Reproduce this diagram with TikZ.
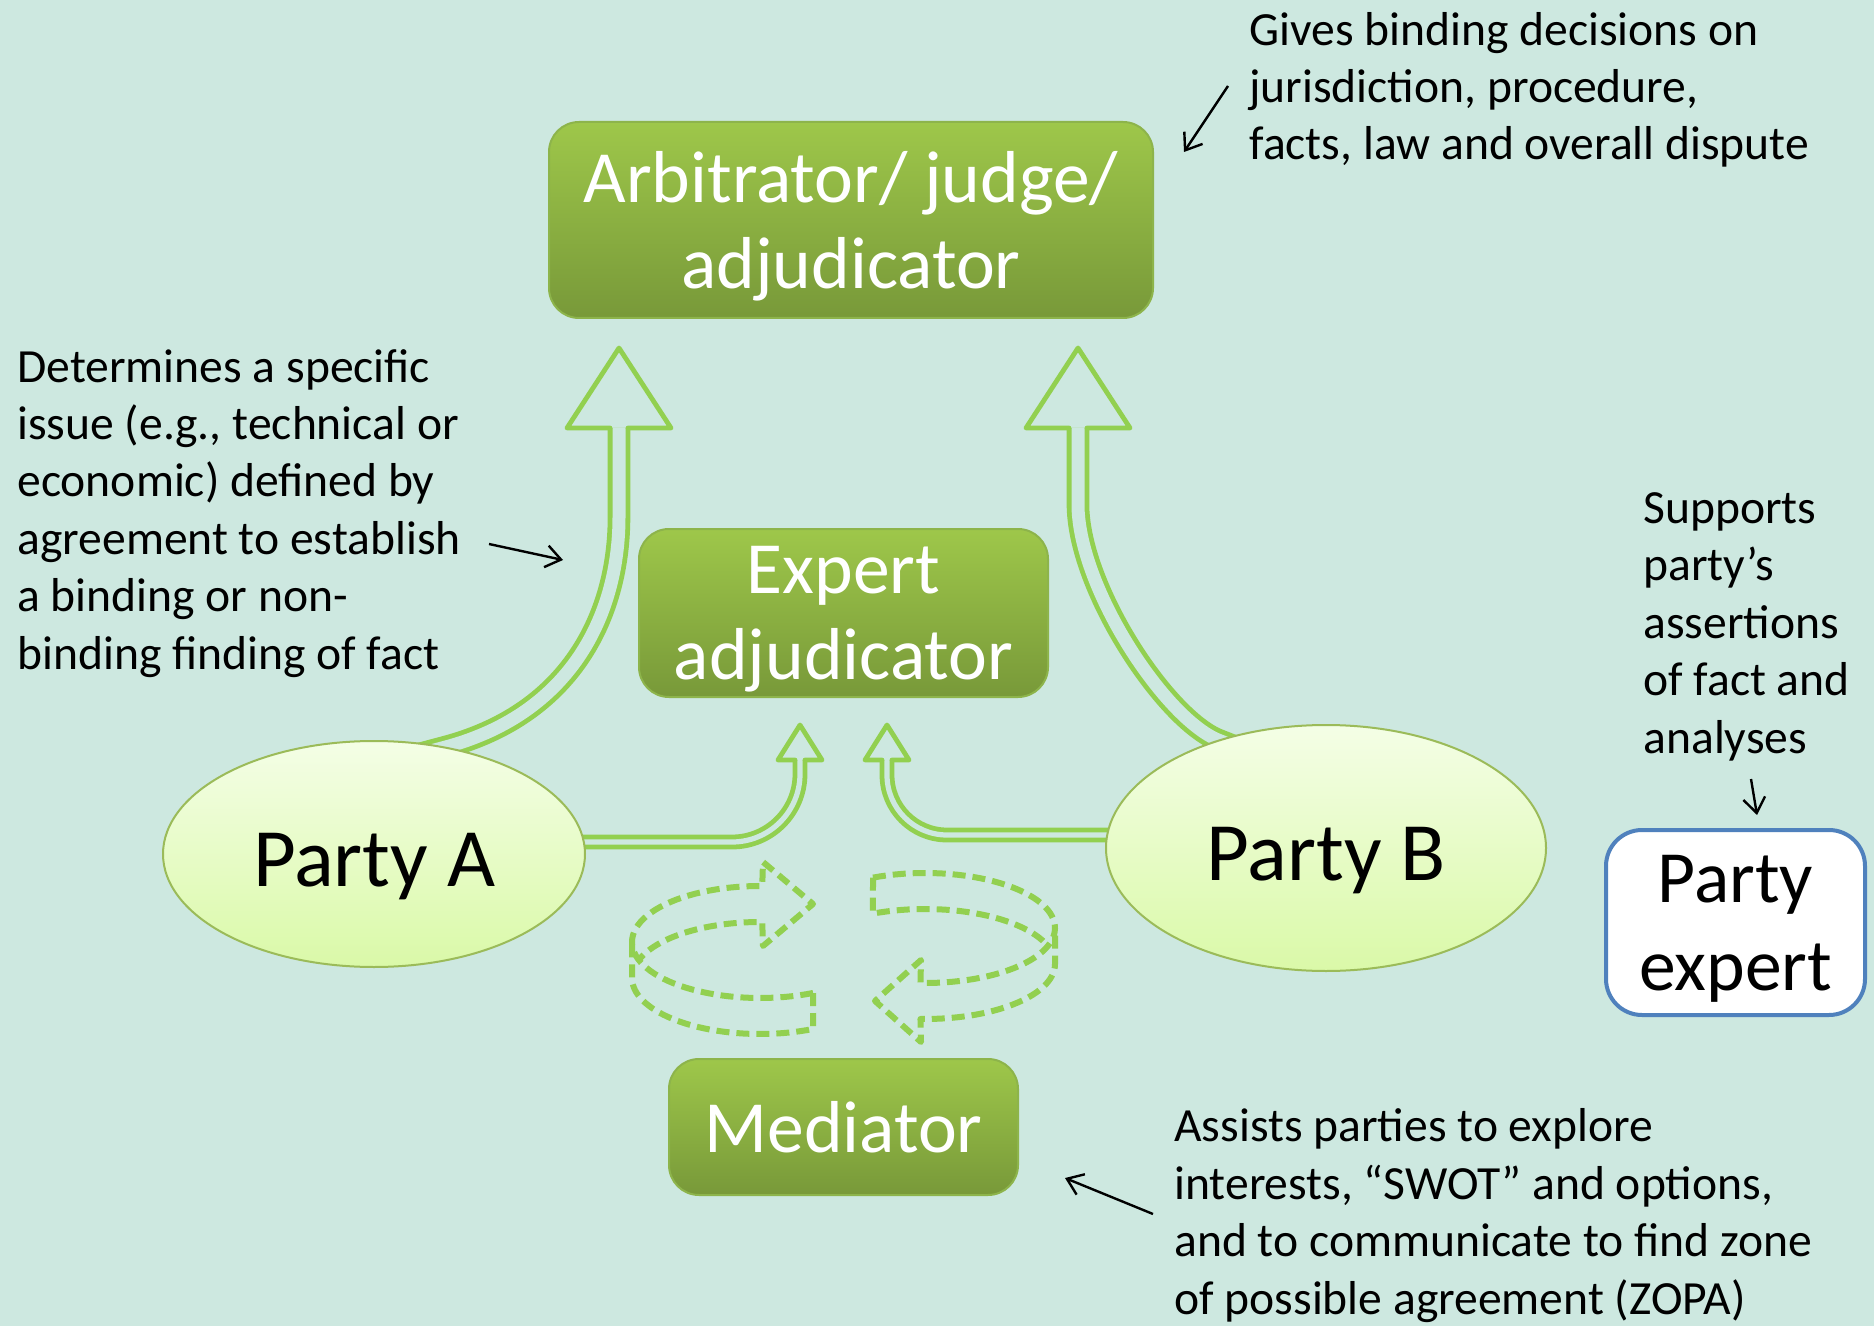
\documentclass[tikz,border=0pt]{standalone}
\usepackage{fontspec}
\setmainfont{Carlito}
\usetikzlibrary{shapes.geometric,arrows.meta}
\definecolor{mint}{RGB}{205,232,224}
\definecolor{leaf}{RGB}{146,208,80}
\definecolor{boxtop}{RGB}{158,199,74}
\definecolor{boxbot}{RGB}{120,153,57}
\definecolor{boxrim}{RGB}{141,180,75}
\definecolor{eggtop}{RGB}{244,254,230}
\definecolor{eggbot}{RGB}{218,249,168}
\definecolor{eggrim}{RGB}{155,187,89}
\definecolor{steel}{RGB}{79,129,189}
\pgfdeclarelayer{back}
\pgfsetlayers{back,main}

\begin{document}
\begin{tikzpicture}[x=0.5pt,y=-0.5pt,
		greenbox/.style={rectangle, rounded corners=15pt, draw=boxrim, line width=1pt, top color=boxtop, bottom color=boxbot, text=white, align=center, inner sep=0pt, text depth=0pt, font=\fontsize{36.8pt}{43pt}\selectfont},
		party/.style={ellipse, draw=eggrim, line width=1pt, top color=eggtop, bottom color=eggbot, inner sep=0pt, text height=32pt, text depth=0pt, font=\fontsize{41.5pt}{50pt}\selectfont},
		expertbox/.style={rectangle, rounded corners=18pt, draw=steel, line width=2pt, fill=white, align=center, inner sep=0pt, text depth=0pt, font=\fontsize{36.8pt}{44pt}\selectfont},
		note/.style={anchor=base west, align=left, inner sep=0pt, font=\fontsize{23.8pt}{28.7pt}\selectfont},
		pointer/.style={-{Straight Barb[length=7.5pt,width=11pt]}, line width=1.2pt},
		bigshaft/.style={draw=leaf, line width=2.4pt, double=mint, double distance=6.5pt},
		smallshaft/.style={draw=leaf, line width=2.4pt, double=mint, double distance=2.6pt},
		arrowtip/.style={draw=leaf, line width=2.4pt, line join=round, line cap=round},
		spin/.style={draw=leaf, line width=3pt, dash pattern=on 6.5pt off 3.5pt, line join=round}]
		\useasboundingbox (0,0) rectangle (1874,1326);

		\node[greenbox, minimum width=302pt, minimum height=98pt] (arb) at (851,220) {Arbitrator/ judge/\\adjudicator};
		\node[greenbox, minimum width=204.5pt, minimum height=84pt] (expadj) at (843.5,613) {Expert\\adjudicator};
		\node[greenbox, minimum width=174.5pt, minimum height=68pt] (med) at (843.5,1127) {Mediator};
		\node[party, minimum width=211pt, minimum height=113pt] (pa) at (374,854) {Party A};
		\node[party, minimum width=220pt, minimum height=123pt] (pb) at (1326,848) {Party B};
		\node[expertbox, minimum width=129.5pt, minimum height=92.5pt] (pexp) at (1735.5,922.5) {Party\\expert};

		\node[note] (gives) at (1249,160) {Gives binding decisions on\\jurisdiction, procedure,\\facts, law and overall dispute};
		\node[note] (determines) at (17,669) {Determines a specific\\issue (e.g., technical or\\economic) defined by\\agreement to establish\\a binding or non-\\binding finding of fact};
		\node[note] (supports) at (1643,753) {Supports\\party’s\\assertions\\of fact and\\analyses};
		\node[note] (assists) at (1174,1314) {Assists parties to explore\\interests, “SWOT” and options,\\and to communicate to find zone\\of possible agreement (ZOPA)};

		\coordinate (tipl) at (619,348);
		\coordinate (tipr) at (1078,348);
		\coordinate (tipa) at (800,725);
		\coordinate (tipb) at (887,725);

		\begin{pgfonlayer}{back}
			\fill[mint] (0,0) rectangle (1874,1326);
			\draw[bigshaft] ([shift={(-30,8)}]pa.56) -- (pa.56) .. controls (575,712) and (619,610) .. (619,517) -- ([yshift=-40pt]tipl);
			\draw[bigshaft] ([shift={(28,11)}]pb.135) -- (pb.135) .. controls (1165,718) and (1080,590) .. (1078,507) -- ([yshift=-40pt]tipr);
			\draw[smallshaft, rounded corners=34pt] ([shift={(-20,-12)}]pa.east) -| ([yshift=-17.5pt]tipa);
			\draw[smallshaft, rounded corners=30pt] ([shift={(20,-13)}]pb.west) -| ([yshift=-17.5pt]tipb);
		\end{pgfonlayer}
		\draw[arrowtip] (tipl) ++(-9,80) -- ++(-43,0) -- (tipl) -- ++(52,80) -- ++(-43,0);
		\draw[arrowtip] (tipr) ++(-9,80) -- ++(-43,0) -- (tipr) -- ++(52,80) -- ++(-43,0);
		\draw[arrowtip] (tipa) ++(-5,35) -- ++(-17,0) -- (tipa) -- ++(22,35) -- ++(-17,0);
		\draw[arrowtip] (tipb) ++(-5,35) -- ++(-17,0) -- (tipb) -- ++(22,35) -- ++(-17,0);

		\draw[spin] plot[domain=65.5:271, samples=60] ({760+128*cos(\x)},{942+56*sin(\x)}) -- (763,862) -- (813,904) -- (763,946) -- plot[domain=271:198.7, samples=30] ({760+128*cos(\x)},{978+56*sin(\x)});
		\draw[spin] (813,993) -- plot[domain=65.5:180, samples=40] ({760+128*cos(\x)},{978+56*sin(\x)}) -- (632,942);
		\draw[spin] plot[domain=246.4:452, samples=60] ({925+130*cos(\x)},{928+55*sin(\x)}) -- (921,960) -- (875,1001) -- (921,1042) -- plot[domain=452:360, samples=30] ({925+130*cos(\x)},{964+55*sin(\x)}) -- (1055,928);
		\draw[spin] (873,877.6) -- plot[domain=246.4:341.4, samples=30] ({925+130*cos(\x)},{964+55*sin(\x)});

		\coordinate (g1) at (1228,86);
		\coordinate (g2) at (1184,152);
		\coordinate (d1) at (489,544);
		\coordinate (d2) at (563,560);
		\coordinate (s1) at (1751,779);
		\coordinate (s2) at (1757,815);
		\coordinate (a1) at (1153,1214);
		\coordinate (a2) at (1065,1178);
		\draw[pointer] (g1) -- (g2);
		\draw[pointer] (d1) -- (d2);
		\draw[pointer] (s1) -- (s2);
		\draw[pointer] (a1) -- (a2);
	\end{tikzpicture}
\end{document}
